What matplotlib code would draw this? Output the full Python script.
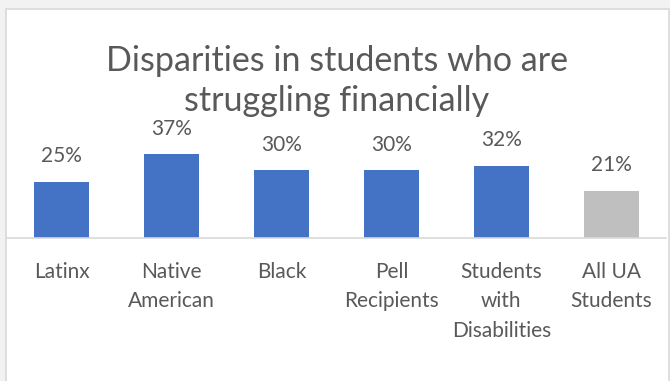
import matplotlib
matplotlib.use("Agg")
import matplotlib.pyplot as plt
from matplotlib.patches import Rectangle

categories = ["Latinx", "Native\nAmerican", "Black", "Pell\nRecipients",
              "Students\nwith\nDisabilities", "All UA\nStudents"]
values = [25, 37, 30, 30, 32, 21]
bar_colors = ["#4472C4"] * 5 + ["#BFBFBF"]
title = "Disparities in students who are\nstruggling financially"

W, H = 670, 381
plt.rcParams['font.family'] = ['Lato', 'DejaVu Sans']
fig = plt.figure(figsize=(W / 100, H / 100), dpi=100)
fig.patch.set_facecolor("#F2F2F2")

# chart frame
frame = Rectangle((5.5 / W, -0.05), (668.5 - 5.5) / W, (H - 8.5) / H + 0.05,
                  transform=fig.transFigure, facecolor="white",
                  edgecolor="#D9D9D9", linewidth=1.2, zorder=-10)
fig.patches.append(frame)

ax_left, ax_right = 7, 666
base_y, top_y = 238, 130
ax = fig.add_axes([ax_left / W, (H - base_y) / H, (ax_right - ax_left) / W, (base_y - top_y) / H])
ax.set_zorder(5)
ax.patch.set_visible(False)
x = list(range(len(categories)))
bars = ax.bar(x, values, width=0.5, color=bar_colors, zorder=2)
ax.set_xlim(-0.5, len(categories) - 0.5)
ax.set_ylim(0, (base_y - top_y) / 2.26)
ax.bar_label(bars, labels=[f"{v}%" for v in values], padding=11,
             fontsize=15, color="#595959")

for s in ["top", "right", "left"]:
    ax.spines[s].set_visible(False)
ax.spines["bottom"].set_color("#D9D9D9")
ax.spines["bottom"].set_linewidth(1.2)
ax.set_yticks([])
ax.set_xticks(x)
ax.set_xticklabels(categories, fontsize=15, color="#595959", linespacing=1.6)
ax.tick_params(axis="x", length=0, pad=17)

fig.text(337 / W, 1 - 45 / H, title, ha="center", va="top", fontsize=24.5,
         color="#595959", linespacing=1.3, zorder=6)

fig.savefig("out.png", dpi=100, facecolor=fig.get_facecolor())
